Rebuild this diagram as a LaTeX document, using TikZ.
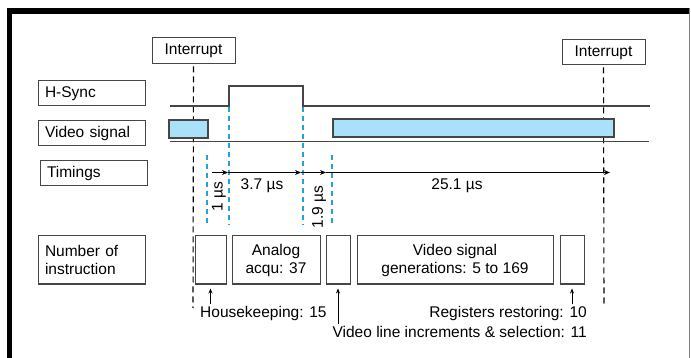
\documentclass[tikz,border=0pt]{standalone}
\usepackage{fontspec}
\setmainfont{Liberation Sans}
\usetikzlibrary{arrows.meta}
\definecolor{sigblue}{RGB}{170,224,248}
\definecolor{dashblue}{RGB}{40,160,215}
\definecolor{lineg}{RGB}{70,70,70}
\begin{document}
\begin{tikzpicture}[x=1pt,y=-1pt,
  font=\fontsize{15.5}{18}\selectfont,
  box/.style={draw=lineg, line width=1pt, inner sep=0pt},
  namebox/.style={box, inner xsep=7pt, text width=93pt, align=left},
  sig/.style={lineg, line width=1.3pt},
  bluedash/.style={dashblue, line width=1.6pt, dash pattern=on 5pt off 4pt},
  intdash/.style={black, line width=1.1pt, dash pattern=on 6pt off 4pt},
  tip/.style={-{Stealth[length=6pt,width=5pt]}, line width=1pt},
  smalltip/.style={-{Stealth[length=5pt,width=4pt]}, line width=0.8pt},
  note/.style={inner sep=2pt}]
\useasboundingbox (0,0) rectangle (691,358);
% frame
\fill (7,8) rectangle (689,14);
\fill (7,8) rectangle (12,358);
\draw[gray, line width=1pt] (689,8) -- (689,358);

% row names
\node[namebox, minimum height=25] (hsync) at (91.5,93.5) {H-Sync};
\node[namebox, minimum height=25] (video) at (91.5,133.5) {Video signal};
\node[namebox, minimum height=25] (timing) at (93.5,173.5) {Timings};
\node[namebox, minimum height=48] (instr) at (91.5,260) {Number of\\instruction};

% interrupts
\node[box, minimum width=83, minimum height=26] (int1) at (193.5,51) {Interrupt};
\node[box, minimum width=83, minimum height=25] (int2) at (603.5,52.5) {Interrupt};
\coordinate (int1end) at (193,308);
\coordinate (int2end) at (604,307);
\draw[intdash] ([yshift=-2pt]int1.south) -- (int1end);
\draw[intdash] ([yshift=-2pt]int2.south) -- (int2end);

% signals
\draw[sig] (170,106) -- (229,106) -- (229,86) -- (303,86) -- (303,106) -- (650,106);
\fill[sigblue] (169,120) rectangle (208,138);
\draw[sig] (169,120) rectangle (208,138);
\fill[sigblue] (333,119) rectangle (614,137);
\draw[sig] (333,119) rectangle (614,137);
\draw[sig] (170,141.5) -- (649,141.5);

% timing marks
\draw[bluedash] (207,155) -- (207,225);
\draw[bluedash] (229,107) -- (229,225);
\draw[bluedash] (303,107) -- (303,225);
\draw[bluedash] (332,155) -- (332,225);

\coordinate (m0) at (212,172.5);
\coordinate (m1) at (228,172.5);
\coordinate (m2) at (301,172.5);
\coordinate (m3) at (326,172.5);
\coordinate (m4) at (610,172.5);
\draw[tip] (m0) -- (m1);
\draw[tip] (m1) -- (m2);
\draw[tip] (m2) -- (m3);
\draw[tip] (m3) -- (m4);

\node[rotate=90] (t1) at (219,197) {1 µs};
\node (t2) at (262,186) {3.7 µs};
\node[rotate=90] (t3) at (319,207) {1.9 µs};
\node (t4) at (457,186) {25.1 µs};

% instruction blocks
\node[box, minimum width=31, minimum height=48] (b1) at (210.5,260) {};
\node[box, minimum width=88, minimum height=48, align=center] (b2) at (276,260) {Analog\\acqu: 37};
\node[box, minimum width=24, minimum height=48] (b3) at (338,260) {};
\node[box, minimum width=196, minimum height=48, align=center] (b4) at (455,260) {Video signal\\generations: 5 to 169};
\node[box, minimum width=24, minimum height=48] (b5) at (572,260) {};

\node[note, anchor=west] (hk) at (198,313) {Housekeeping: 15};
\node[note, anchor=east] (rr) at (589,313) {Registers restoring: 10};
\node[note, anchor=east] (vl) at (589,332) {Video line increments \& selection: 11};
\draw[smalltip] (b1.south |- hk.north) -- ([yshift=-4pt]b1.south);
\draw[smalltip] (b3.south |- vl.north) -- ([yshift=-4pt]b3.south);
\draw[smalltip] (b5.south |- rr.north) -- ([yshift=-4pt]b5.south);
\end{tikzpicture}
\end{document}
